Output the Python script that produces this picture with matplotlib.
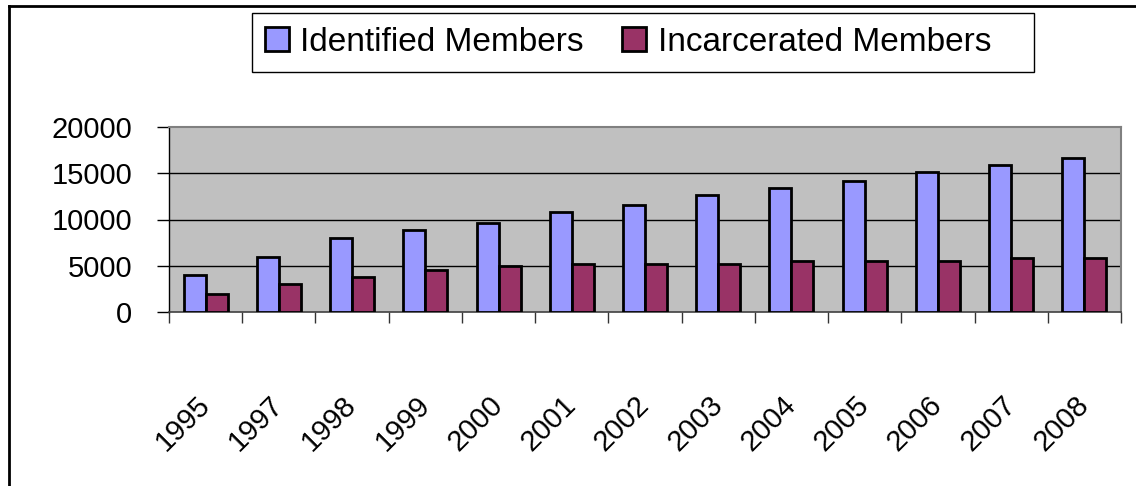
import matplotlib
matplotlib.use("Agg")
import matplotlib.pyplot as plt
import numpy as np
from matplotlib.patches import Patch, Rectangle
from matplotlib.lines import Line2D

years = ["1995", "1997", "1998", "1999", "2000", "2001", "2002",
         "2003", "2004", "2005", "2006", "2007", "2008"]
identified = [4000, 6000, 8000, 8900, 9600, 10800, 11600,
              12600, 13400, 14200, 15100, 15900, 16600]
incarcerated = [2000, 3000, 3800, 4500, 5000, 5200, 5200,
                5200, 5500, 5500, 5500, 5800, 5800]
yticks = [0, 5000, 10000, 15000, 20000]
series_names = ["Identified Members", "Incarcerated Members"]

plt.rcParams['font.family'] = ['Liberation Sans', 'DejaVu Sans']

W, H = 1136, 486
fig = plt.figure(figsize=(W / 100, H / 100), dpi=100)
fig.patch.set_facecolor("white")

left, right, top, bottom = 169, 1121, 127, 312
ax = fig.add_axes([left / W, 1 - bottom / H, (right - left) / W, (bottom - top) / H])
ax.set_facecolor("#C0C0C0")

blue = "#9999FF"
red = "#993366"
x = np.arange(len(years))
bw = 0.30
ax.bar(x - bw / 2, identified, bw, color=blue, edgecolor="black", linewidth=2.0, zorder=3)
ax.bar(x + bw / 2, incarcerated, bw, color=red, edgecolor="black", linewidth=2.0, zorder=3)

ax.set_xlim(-0.5, len(years) - 0.5)
ax.set_ylim(0, 20000)
ax.set_yticks(yticks)
ax.set_yticklabels([str(v) for v in yticks], fontsize=21)
for v in yticks[1:-1]:
    ax.axhline(v, color="black", linewidth=1.0, zorder=1)

ax.set_xticks(np.arange(len(years) + 1) - 0.5)
ax.set_xticklabels([])
ax.set_xticks(x, minor=True)
ax.set_xticklabels(years, minor=True, fontsize=21, rotation=45,
                   ha="right", va="center", rotation_mode="anchor")

ax.tick_params(axis="y", direction="out", length=8.6, width=1.0, color="black", pad=18)
ax.tick_params(axis="x", which="major", direction="out", length=8, width=1.0, color="#333333")
ax.tick_params(axis="x", which="minor", length=0, pad=64)

ax.spines["left"].set_color("black")
ax.spines["left"].set_linewidth(1.0)
ax.spines["bottom"].set_color("#404040")
ax.spines["bottom"].set_linewidth(1.2)
for s in ["top", "right"]:
    ax.spines[s].set_color("#808080")
    ax.spines[s].set_linewidth(1.5)

# Legend box
fig.patches.append(Rectangle((252 / W, 1 - 72 / H), (1034 - 252) / W, (72 - 13) / H,
                             transform=fig.transFigure, facecolor="white",
                             edgecolor="black", linewidth=1.0, zorder=0))
handles = [Patch(facecolor=blue, edgecolor="black", linewidth=2.0),
           Patch(facecolor=red, edgecolor="black", linewidth=2.0)]
fig.legend(handles, series_names, loc="center left",
           bbox_to_anchor=(264.5 / W, 1 - 42.5 / H), bbox_transform=fig.transFigure,
           ncol=2, frameon=False, fontsize=24, borderpad=0, borderaxespad=0,
           handlelength=0.72, handleheight=0.72, handletextpad=0.36,
           columnspacing=1.14)

# Outer frame lines (left and top)
fig.add_artist(Line2D([9 / W, 9 / W], [0, 1 - 6 / H], transform=fig.transFigure,
                      color="black", linewidth=2.0))
fig.add_artist(Line2D([9 / W, 1], [1 - 6 / H, 1 - 6 / H], transform=fig.transFigure,
                      color="black", linewidth=2.0))

fig.savefig("out.png", dpi=100)
